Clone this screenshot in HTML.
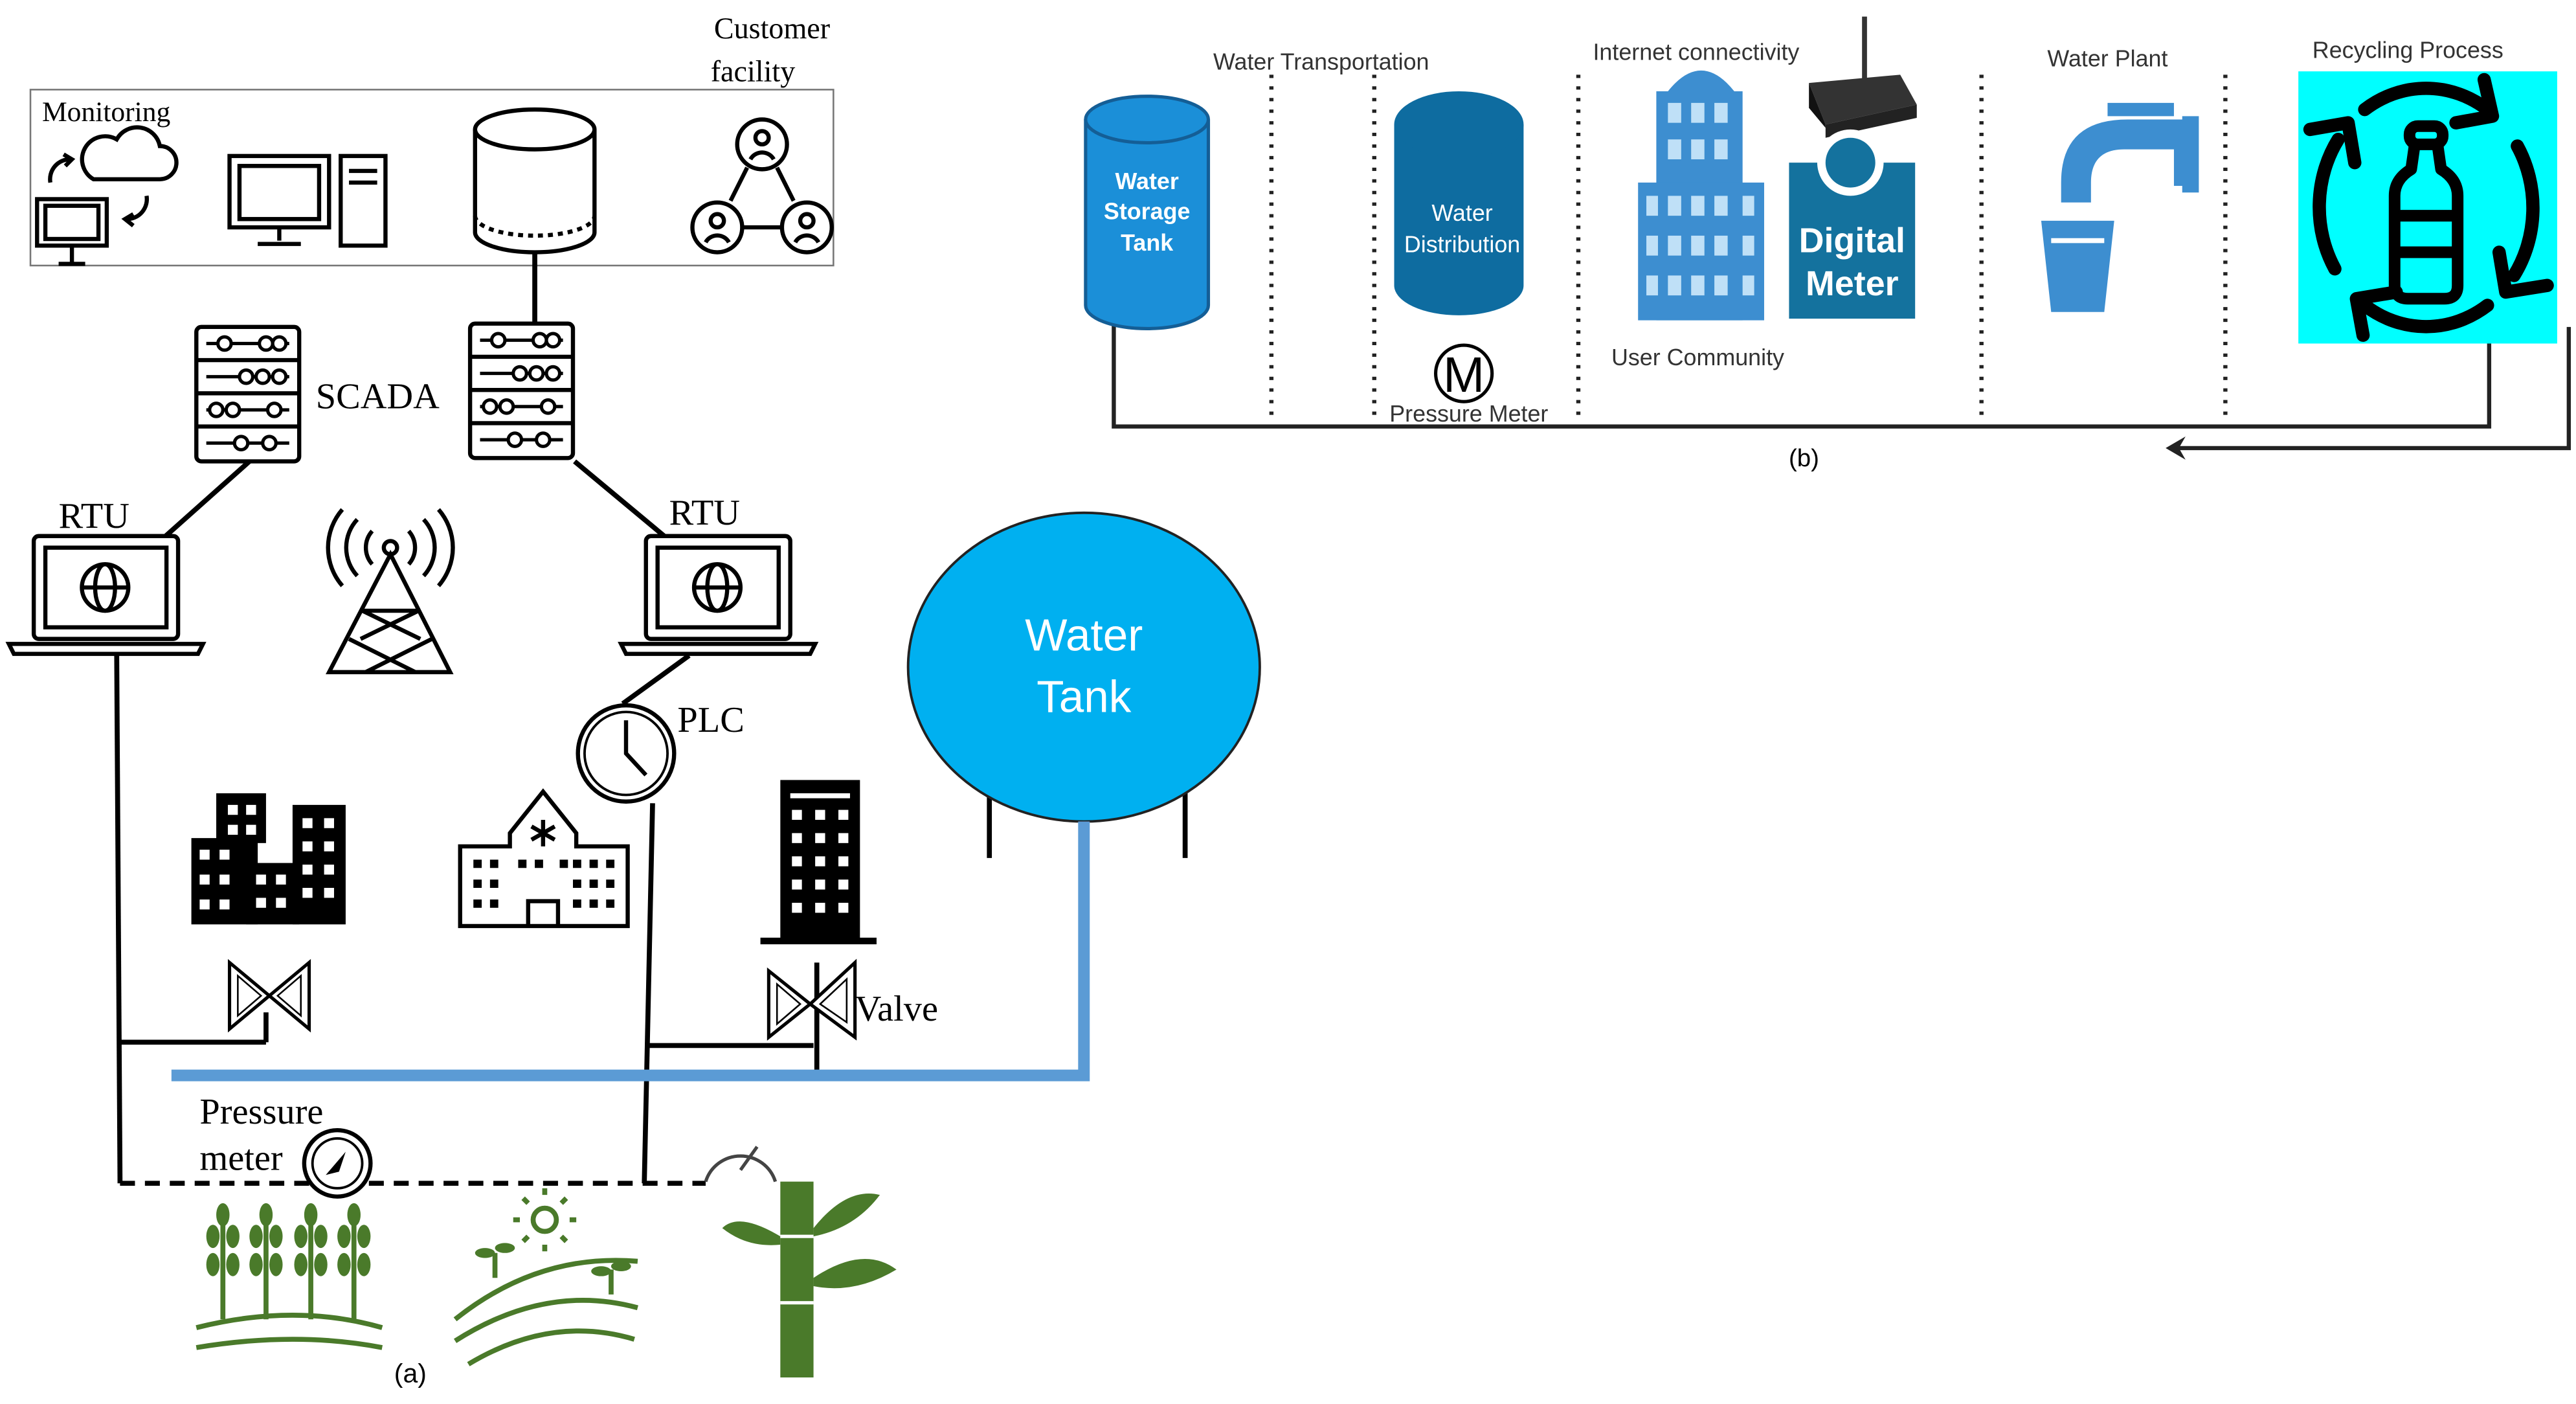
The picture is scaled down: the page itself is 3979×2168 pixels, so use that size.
<!DOCTYPE html>
<html><head><meta charset="utf-8"><style>
html,body{margin:0;padding:0;background:#fff;}
svg{display:block;}
.serif{font-family:"Liberation Serif",serif;}
.sans{font-family:"Liberation Sans",sans-serif;}
</style></head><body>
<svg width="3979" height="2168" viewBox="0 0 1552 846" xmlns="http://www.w3.org/2000/svg">
<rect width="1552" height="846" fill="#fff"/>
<!-- ===== (a) ===== -->
<rect x="18" y="54" width="484" height="106" fill="none" stroke="#777" stroke-width="1"/>
<text x="25" y="73" class="serif" font-size="17">Monitoring</text>
<text x="430" y="23" class="serif" font-size="18">Customer</text>
<text x="428" y="49" class="serif" font-size="18">facility</text>
<g fill="none" stroke="#000" stroke-width="2.5">
<path d="M56 108 h40 a10 10 0 0 0 0-20 a14 14 0 0 0-26-4 a10 10 0 0 0-14 24z"/>
<rect x="22" y="120" width="42" height="28"/><rect x="27" y="124" width="32" height="20"/>
<path d="M43 148 v10 M35 159 h16"/>
<path d="M30 110 a12 12 0 0 1 12-14 M38 93 l5 3 -4 4"/>
<path d="M88 118 a12 12 0 0 1-12 14 M80 136 l-5-4 5-3"/>
<rect x="138" y="94" width="60" height="43"/><rect x="144" y="100" width="48" height="32"/>
<path d="M168 137 v8 M155 147 h26"/>
<rect x="205" y="94" width="27" height="54"/><path d="M210 103 h17 M210 110 h17"/>
<circle cx="459" cy="87" r="15"/><circle cx="432" cy="137" r="15"/><circle cx="486" cy="137" r="15"/>
<path d="M452 96 a8 8 0 0 1 14 0 M425 146 a8 8 0 0 1 14 0 M479 146 a8 8 0 0 1 14 0"/>
<circle cx="459" cy="83" r="4"/><circle cx="432" cy="133" r="4"/><circle cx="486" cy="133" r="4"/>
<path d="M450 101 l-10 20 M468 101 l10 20 M448 137 h22"/>
</g>
<g fill="#fff" stroke="#000" stroke-width="2.5">
<path d="M286 78 v62 a36 12 0 0 0 72 0 v-62"/>
<ellipse cx="322" cy="78" rx="36" ry="12"/>
<path d="M286 130 a36 12 0 0 0 72 0" fill="none" stroke-dasharray="3 3"/>
</g>
<line x1="322" y1="152" x2="322" y2="195" stroke="#000" stroke-width="3"/>
<g id="srv" fill="#fff" stroke="#000" stroke-width="2.5">
<rect x="118" y="197" width="62" height="81" rx="3"/>
<path d="M118 217 h62 M118 237 h62 M118 257 h62"/>
<g stroke-width="2">
<path d="M124 207 h50 M124 227 h50 M124 247 h50 M124 267 h50"/>
<circle cx="135" cy="207" r="4"/><circle cx="160" cy="207" r="4"/><circle cx="168" cy="207" r="4"/>
<circle cx="148" cy="227" r="4"/><circle cx="158" cy="227" r="4"/><circle cx="168" cy="227" r="4"/>
<circle cx="130" cy="247" r="4"/><circle cx="140" cy="247" r="4"/><circle cx="165" cy="247" r="4"/>
<circle cx="145" cy="267" r="4"/><circle cx="162" cy="267" r="4"/>
</g></g>
<use href="#srv" x="165" y="-2"/>
<text x="190" y="246" class="serif" font-size="22">SCADA</text>
<g stroke="#000" stroke-width="3" fill="none">
<line x1="150" y1="278" x2="95" y2="327"/>
<line x1="346" y1="278" x2="400" y2="323"/>
<line x1="415" y1="395" x2="375" y2="424"/>
<line x1="70" y1="395" x2="72" y2="713"/>
<line x1="393" y1="484" x2="388" y2="713"/>
<line x1="72" y1="628" x2="160" y2="628"/>
<line x1="390" y1="630" x2="490" y2="630"/>
<line x1="160" y1="610" x2="160" y2="628"/>
<line x1="492" y1="580" x2="492" y2="645"/>
</g>
<g id="lap" fill="#fff" stroke="#000" stroke-width="2.5">
<rect x="20" y="323" width="87" height="62" rx="3"/>
<rect x="27" y="330" width="73" height="48"/>
<path d="M5 388 h117 l-3 6 h-111z"/>
<circle cx="63" cy="354" r="14"/><ellipse cx="63" cy="354" rx="6" ry="14"/><path d="M49 354 h28"/>
</g>
<use href="#lap" x="369" y="0"/>
<text x="35" y="318" class="serif" font-size="22">RTU</text>
<text x="403" y="316" class="serif" font-size="22">RTU</text>
<g fill="none" stroke="#000" stroke-width="2.5">
<circle cx="235" cy="330" r="4"/>
<path d="M224 320 a15 15 0 0 0 0 20 M246 320 a15 15 0 0 1 0 20 M215 313 a25 25 0 0 0 0 34 M255 313 a25 25 0 0 1 0 34 M206 307 a35 35 0 0 0 0 46 M264 307 a35 35 0 0 1 0 46"/>
<path d="M235 334 L198 405 h73 z M218 368 h34 M210 385 l40 20 M260 385 l-40 20 M218 368 l35 17 M252 368 l-35 17"/>
</g>
<circle cx="377" cy="454" r="29" fill="#fff" stroke="#000" stroke-width="2.5"/>
<circle cx="377" cy="454" r="25" fill="none" stroke="#000" stroke-width="1.5"/>
<path d="M377 434 v20 l12 13" stroke="#000" stroke-width="2.5" fill="none"/>
<text x="408" y="441" class="serif" font-size="22">PLC</text>
<line x1="596" y1="478" x2="596" y2="517" stroke="#000" stroke-width="3"/>
<line x1="714" y1="478" x2="714" y2="517" stroke="#000" stroke-width="3"/>
<ellipse cx="653" cy="402" rx="106" ry="93" fill="#00b0f0" stroke="#222" stroke-width="1.5"/>
<text x="653" y="392" text-anchor="middle" class="sans" font-size="27" fill="#fff">Water</text>
<text x="653" y="429" text-anchor="middle" class="sans" font-size="27" fill="#fff">Tank</text>
<path d="M103 648 H653 V495" fill="none" stroke="#5b9bd5" stroke-width="7"/>
<g fill="#000">
<rect x="115" y="505" width="40" height="52"/><rect x="130" y="478" width="30" height="30"/><rect x="176" y="485" width="32" height="72"/><rect x="148" y="520" width="32" height="37"/>
<rect x="470" y="470" width="48" height="98"/><rect x="458" y="565" width="70" height="4"/>
</g>
<g fill="#fff">
<rect x="120" y="512" width="6" height="6"/><rect x="132" y="512" width="6" height="6"/><rect x="120" y="527" width="6" height="6"/><rect x="132" y="527" width="6" height="6"/><rect x="120" y="542" width="6" height="6"/><rect x="132" y="542" width="6" height="6"/>
<rect x="137" y="485" width="6" height="6"/><rect x="148" y="485" width="6" height="6"/><rect x="137" y="497" width="6" height="6"/><rect x="148" y="497" width="6" height="6"/>
<rect x="182" y="493" width="6" height="6"/><rect x="195" y="493" width="6" height="6"/><rect x="182" y="507" width="6" height="6"/><rect x="195" y="507" width="6" height="6"/><rect x="182" y="521" width="6" height="6"/><rect x="195" y="521" width="6" height="6"/><rect x="182" y="535" width="6" height="6"/><rect x="195" y="535" width="6" height="6"/>
<rect x="154" y="527" width="6" height="6"/><rect x="166" y="527" width="6" height="6"/><rect x="154" y="541" width="6" height="6"/><rect x="166" y="541" width="6" height="6"/>
<rect x="476" y="478" width="36" height="3"/>
<rect x="477" y="488" width="6" height="6"/><rect x="491" y="488" width="6" height="6"/><rect x="505" y="488" width="6" height="6"/>
<rect x="477" y="502" width="6" height="6"/><rect x="491" y="502" width="6" height="6"/><rect x="505" y="502" width="6" height="6"/>
<rect x="477" y="516" width="6" height="6"/><rect x="491" y="516" width="6" height="6"/><rect x="505" y="516" width="6" height="6"/>
<rect x="477" y="530" width="6" height="6"/><rect x="491" y="530" width="6" height="6"/><rect x="505" y="530" width="6" height="6"/>
<rect x="477" y="544" width="6" height="6"/><rect x="491" y="544" width="6" height="6"/><rect x="505" y="544" width="6" height="6"/>
</g>
<g fill="none" stroke="#000" stroke-width="2.5">
<path d="M277 510 h30 v-8 l20-25 20 25 v8 h31 v48 h-101z"/>
<path d="M318 558 v-15 h18 v15"/>
<path d="M327 494 v16 M320 498 l14 8 M334 498 l-14 8"/>
</g>
<g fill="#000">
<rect x="285" y="518" width="5" height="5"/><rect x="295" y="518" width="5" height="5"/><rect x="285" y="530" width="5" height="5"/><rect x="295" y="530" width="5" height="5"/><rect x="285" y="542" width="5" height="5"/><rect x="295" y="542" width="5" height="5"/>
<rect x="345" y="518" width="5" height="5"/><rect x="355" y="518" width="5" height="5"/><rect x="365" y="518" width="5" height="5"/><rect x="345" y="530" width="5" height="5"/><rect x="355" y="530" width="5" height="5"/><rect x="365" y="530" width="5" height="5"/><rect x="345" y="542" width="5" height="5"/><rect x="355" y="542" width="5" height="5"/><rect x="365" y="542" width="5" height="5"/>
<rect x="312" y="518" width="5" height="5"/><rect x="322" y="518" width="5" height="5"/><rect x="337" y="518" width="5" height="5"/>
</g>
<g fill="#fff" stroke="#000" stroke-width="2">
<path d="M138 580 v40 l24-20z M186 580 v40 l-24-20z"/>
<path d="M143 588 v24 l14-12z M181 588 v24 l-14-12z" stroke-width="1"/>
<path d="M463 585 v40 l25-20z M515 580 v45 l-27-20z"/>
<path d="M468 593 v24 l14-12z M510 590 v26 l-16-11z" stroke-width="1"/>
</g>
<text x="515" y="615" class="serif" font-size="22">Valve</text>
<line x1="72" y1="713" x2="425" y2="713" stroke="#000" stroke-width="3" stroke-dasharray="9 6"/>
<text x="120" y="677" class="serif" font-size="22">Pressure</text>
<text x="120" y="705" class="serif" font-size="22">meter</text>
<circle cx="203" cy="701" r="20" fill="#fff" stroke="#000" stroke-width="2.5"/>
<circle cx="203" cy="701" r="15" fill="none" stroke="#000" stroke-width="1.5"/>
<path d="M196 708 l12-14 -4 12z" fill="#000"/>
<path d="M425 712 a22 22 0 0 1 42 0" fill="none" stroke="#444" stroke-width="2"/>
<path d="M446 705 l10-14" stroke="#444" stroke-width="2"/>
<g stroke="#4a7a2a" stroke-width="3" fill="none">
<path d="M118 800 q60-15 112 0 M118 812 q60-10 112 0"/>
<path d="M134 795 v-65 M160 795 v-65 M187 795 v-65 M213 795 v-65"/>
<path d="M274 795 q50-40 110-35 M274 808 q55-35 110-20 M282 822 q50-30 100-15"/>
<path d="M298 770 v-15 M368 780 v-15"/>
<circle cx="328" cy="735" r="7"/>
<path d="M328 720 v-4 M328 750 v4 M313 735 h-4 M343 735 h4 M318 725 l-3-3 M338 725 l3-3 M318 745 l-3 3 M338 745 l3 3"/>
</g>
<g fill="#4a7a2a">
<ellipse cx="128" cy="745" rx="4" ry="7"/><ellipse cx="140" cy="745" rx="4" ry="7"/><ellipse cx="128" cy="762" rx="4" ry="7"/><ellipse cx="140" cy="762" rx="4" ry="7"/><ellipse cx="134" cy="732" rx="4" ry="7"/>
<ellipse cx="154" cy="745" rx="4" ry="7"/><ellipse cx="166" cy="745" rx="4" ry="7"/><ellipse cx="154" cy="762" rx="4" ry="7"/><ellipse cx="166" cy="762" rx="4" ry="7"/><ellipse cx="160" cy="732" rx="4" ry="7"/>
<ellipse cx="181" cy="745" rx="4" ry="7"/><ellipse cx="193" cy="745" rx="4" ry="7"/><ellipse cx="181" cy="762" rx="4" ry="7"/><ellipse cx="193" cy="762" rx="4" ry="7"/><ellipse cx="187" cy="732" rx="4" ry="7"/>
<ellipse cx="207" cy="745" rx="4" ry="7"/><ellipse cx="219" cy="745" rx="4" ry="7"/><ellipse cx="207" cy="762" rx="4" ry="7"/><ellipse cx="219" cy="762" rx="4" ry="7"/><ellipse cx="213" cy="732" rx="4" ry="7"/>
<ellipse cx="292" cy="755" rx="6" ry="3"/><ellipse cx="304" cy="752" rx="6" ry="3"/><ellipse cx="362" cy="766" rx="6" ry="3"/><ellipse cx="374" cy="763" rx="6" ry="3"/>
<rect x="470" y="712" width="20" height="118"/>
<path d="M490 770 q30-20 50-5 q-25 15-50 10z M490 740 q20-25 40-20 q-15 20-40 25z M470 745 q-25-15-35-5 q15 12 35 10z"/>
</g>
<g stroke="#fff" stroke-width="2"><path d="M470 745 h20 M470 785 h20"/></g>
<text x="247" y="833" class="sans" font-size="16" text-anchor="middle">(a)</text>

<!-- ===== (b) ===== -->
<g stroke="#222" stroke-width="2.5" stroke-dasharray="2 5" fill="none">
<line x1="766" y1="45" x2="766" y2="255"/>
<line x1="828" y1="45" x2="828" y2="255"/>
<line x1="951" y1="45" x2="951" y2="255"/>
<line x1="1194" y1="45" x2="1194" y2="255"/>
<line x1="1341" y1="45" x2="1341" y2="255"/>
</g>
<g fill="none" stroke="#222" stroke-width="2.5">
<path d="M671 195 V257 H1500 V205"/>
<path d="M1548 197 V270 H1308"/>
</g>
<path d="M1305 270 l12-7 -4 7 4 7z" fill="#222"/>
<text x="1087" y="281" class="sans" font-size="15" text-anchor="middle">(b)</text>
<path d="M654 72 v112 a37 14 0 0 0 74 0 v-112" fill="#1b8fd8" stroke="#145e96" stroke-width="2"/>
<ellipse cx="691" cy="72" rx="37" ry="14" fill="#1b8fd8" stroke="#145e96" stroke-width="2"/>
<g class="sans" font-size="14" fill="#fff" text-anchor="middle" font-weight="bold">
<text x="691" y="114">Water</text><text x="691" y="132">Storage</text><text x="691" y="151">Tank</text></g>
<text x="796" y="42" class="sans" font-size="14" text-anchor="middle" fill="#333">Water Transportation</text>
<path d="M840 75 v97 a39 18 0 0 0 78 0 v-97" fill="#0e6ca0"/>
<ellipse cx="879" cy="75" rx="39" ry="20" fill="#0e6ca0"/>
<g class="sans" font-size="14" fill="#fff" text-anchor="middle">
<text x="881" y="133">Water</text><text x="881" y="152">Distribution</text></g>
<circle cx="882" cy="225" r="17" fill="#fff" stroke="#000" stroke-width="2"/>
<text x="882" y="236" class="sans" font-size="30" text-anchor="middle">M</text>
<text x="885" y="254" class="sans" font-size="14" text-anchor="middle" fill="#333">Pressure Meter</text>
<g fill="#3d8ed0">
<rect x="998" y="55" width="52" height="138"/><rect x="987" y="110" width="76" height="83"/>
<path d="M1005 55 q20-25 40 0z"/>
</g>
<g fill="#bfe0f7">
<rect x="1005" y="62" width="8" height="12"/><rect x="1019" y="62" width="8" height="12"/><rect x="1033" y="62" width="8" height="12"/>
<rect x="1005" y="84" width="8" height="12"/><rect x="1019" y="84" width="8" height="12"/><rect x="1033" y="84" width="8" height="12"/>
<rect x="992" y="118" width="7" height="12"/><rect x="1005" y="118" width="8" height="12"/><rect x="1019" y="118" width="8" height="12"/><rect x="1033" y="118" width="8" height="12"/><rect x="1050" y="118" width="7" height="12"/>
<rect x="992" y="142" width="7" height="12"/><rect x="1005" y="142" width="8" height="12"/><rect x="1019" y="142" width="8" height="12"/><rect x="1033" y="142" width="8" height="12"/><rect x="1050" y="142" width="7" height="12"/>
<rect x="992" y="166" width="7" height="12"/><rect x="1005" y="166" width="8" height="12"/><rect x="1019" y="166" width="8" height="12"/><rect x="1033" y="166" width="8" height="12"/><rect x="1050" y="166" width="7" height="12"/>
</g>
<text x="1022" y="36" class="sans" font-size="14" text-anchor="middle" fill="#333">Internet connectivity</text>
<text x="1023" y="220" class="sans" font-size="14" text-anchor="middle" fill="#333">User Community</text>
<g fill="#333">
<path d="M1090 50 l55 -5 l10 18 l-55 12z"/>
<path d="M1090 50 v15 l10 12 v-2z" fill="#111"/>
<path d="M1100 75 l55-12 v8 l-55 12z" fill="#222"/>
<rect x="1122" y="10" width="3" height="38"/>
</g>
<rect x="1078" y="98" width="76" height="94" fill="#14729e"/>
<circle cx="1115" cy="98" r="20" fill="#fff"/>
<circle cx="1115" cy="98" r="15" fill="#14729e"/>
<g class="sans" font-size="21" font-weight="bold" fill="#fff" text-anchor="middle">
<text x="1116" y="152">Digital</text><text x="1116" y="178">Meter</text></g>
<text x="1270" y="40" class="sans" font-size="14" text-anchor="middle" fill="#333">Water Plant</text>
<g fill="#3d8ed0">
<rect x="1270" y="62" width="40" height="8"/>
<path d="M1265 72 h55 v40 h-10 v-22 h-30 q-20 0-20 20 v12 h-18 v-12 q0-38 40-38z"/>
<rect x="1315" y="70" width="10" height="46"/>
<path d="M1230 133 h44 l-6 55 h-32z"/>
</g>
<path d="M1236 145 h32" stroke="#fff" stroke-width="3"/>
<!-- recycling -->
<text x="1451" y="35" class="sans" font-size="14" text-anchor="middle" fill="#333">Recycling Process</text>
<rect x="1385" y="43" width="156" height="164" fill="#00ffff"/>
<g fill="none" stroke="#000" stroke-width="8" stroke-linecap="round" stroke-linejoin="round">
<path d="M1425 66 A65 72 0 0 1 1499 66"/>
<path d="M1480 74 L1502 70 L1497 48"/>
<path d="M1517 88 A65 72 0 0 1 1515 166"/>
<path d="M1506 152 L1510 176 L1535 172"/>
<path d="M1499 184 A65 72 0 0 1 1425 184"/>
<path d="M1444 176 L1420 180 L1424 202"/>
<path d="M1407 162 A65 72 0 0 1 1409 84"/>
<path d="M1392 78 L1415 74 L1419 98"/>
</g>
<g fill="none" stroke="#000" stroke-width="7" stroke-linejoin="round">
<rect x="1452" y="76" width="20" height="11" rx="5"/>
<path d="M1455 88 L1453 102 Q1443 108 1443 118 V172 Q1443 180 1451 180 H1473 Q1481 180 1481 172 V118 Q1481 108 1471 102 L1469 88"/>
<path d="M1443 130 h38 M1443 152 h38"/>
</g>
</svg>
</body></html>
